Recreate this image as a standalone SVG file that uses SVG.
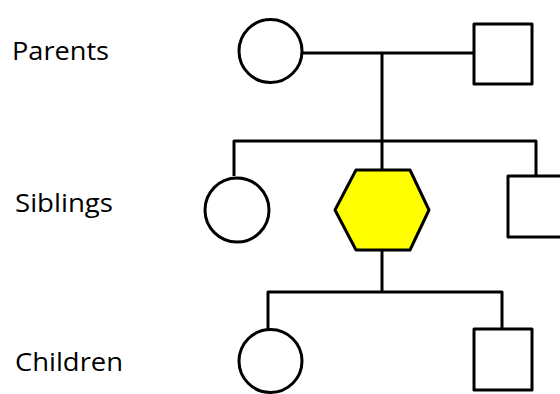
<svg xmlns="http://www.w3.org/2000/svg" width="560" height="394" viewBox="0 0 560 394">
<style>
.shape{fill:#fff;stroke:#000;stroke-width:3;stroke-linejoin:round}
.line{fill:none;stroke:#000;stroke-width:3;stroke-linejoin:round}
.lbl{font-family:"Open Sans","Liberation Sans",sans-serif;font-size:25px;fill:#000}
</style>
<rect width="560" height="394" fill="#fff"/>
<g id="labels">
<text class="lbl" x="12" y="60" textLength="97" lengthAdjust="spacingAndGlyphs">Parents</text>
<text class="lbl" x="15" y="212" textLength="98" lengthAdjust="spacingAndGlyphs">Siblings</text>
<text class="lbl" x="15" y="371" textLength="108" lengthAdjust="spacingAndGlyphs">Children</text>
</g>
<g id="connectors">
<path class="line" d="M302 53 H474"/>
<path class="line" d="M382 53 V170"/>
<path class="line" d="M234 176 V141 H536 V176"/>
<path class="line" d="M382 250 V292"/>
<path class="line" d="M268 329 V292 H502 V329"/>
</g>
<g id="mother"><circle class="shape" cx="270.5" cy="51" r="31.5"/></g>
<g id="father"><rect class="shape" x="474" y="24" width="58" height="60"/></g>
<g id="sister"><circle class="shape" cx="237" cy="210" r="32"/></g>
<g id="proband"><polygon class="shape" style="fill:#ffff00" points="356,170 410,170 429,210 410,250 356,250 335,210"/></g>
<g id="brother"><rect class="shape" x="508" y="176" width="60" height="61"/></g>
<g id="daughter"><circle class="shape" cx="270.5" cy="361" r="31.5"/></g>
<g id="son"><rect class="shape" x="474" y="329" width="58" height="61"/></g>
</svg>
